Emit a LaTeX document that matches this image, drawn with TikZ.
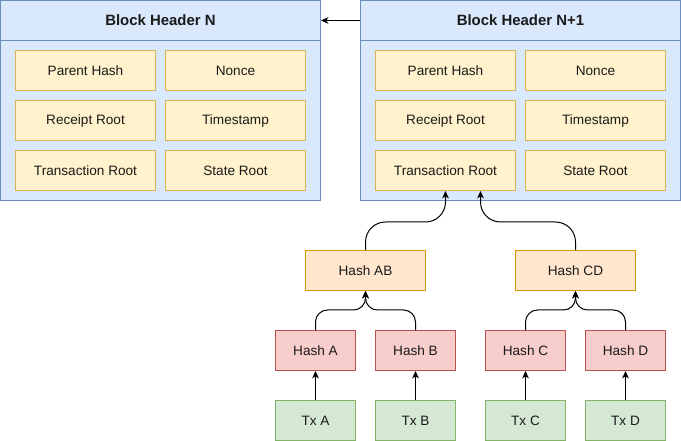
\documentclass[tikz,border=0pt]{standalone}
\usepackage{fontspec}
\setmainfont{Liberation Sans}
\usetikzlibrary{arrows.meta}
\definecolor{bluefill}{HTML}{DAE8FC}
\definecolor{bluedraw}{HTML}{6C8EBF}
\definecolor{yelfill}{HTML}{FFF2CC}
\definecolor{yeldraw}{HTML}{D6B656}
\definecolor{orafill}{HTML}{FFE6CC}
\definecolor{oradraw}{HTML}{D79B00}
\definecolor{redfill}{HTML}{F8CECC}
\definecolor{reddraw}{HTML}{B85450}
\definecolor{grnfill}{HTML}{D5E8D4}
\definecolor{grndraw}{HTML}{82B366}
\definecolor{txt}{HTML}{1A1A1A}
\begin{document}
\begin{tikzpicture}[x=0.75pt,y=-0.75pt,
  base/.style={draw, line width=0.75pt, inner sep=0pt, anchor=center, text=txt,
    font=\fontsize{10.2}{12}\selectfont},
  hdr/.style={base, fill=bluefill, draw=bluedraw, minimum width=240pt, minimum height=30pt,
    font=\bfseries\fontsize{11.2}{13}\selectfont},
  body/.style={base, fill=bluefill, draw=bluedraw, minimum width=240pt, minimum height=120pt},
  field/.style={base, fill=yelfill, draw=yeldraw, minimum width=105pt, minimum height=30pt},
  mid/.style={base, fill=orafill, draw=oradraw, minimum width=90pt, minimum height=30pt},
  leaf/.style={base, fill=redfill, draw=reddraw, minimum width=60pt, minimum height=30pt},
  tx/.style={base, fill=grnfill, draw=grndraw, minimum width=60pt, minimum height=30pt},
  arr/.style={-{Stealth[length=5.5pt,width=5pt,inset=1.5pt]}, line width=0.75pt, black}]
\useasboundingbox (0,0) rectangle (681,441);
% Block Header N
\node[body] (bN) at (160.5,120.5) {};
\node[hdr] (hN) at (160.5,20.5) {Block Header N};
\node[field] (phN) at (85.5,70.5) {Parent Hash};
\node[field] (noN) at (235.5,70.5) {Nonce};
\node[field] (rrN) at (85.5,120.5) {Receipt Root};
\node[field] (tsN) at (235.5,120.5) {Timestamp};
\node[field] (trN) at (85.5,170.5) {Transaction Root};
\node[field] (srN) at (235.5,170.5) {State Root};
% Block Header N+1
\node[body] (bM) at (520.5,120.5) {};
\node[hdr] (hM) at (520.5,20.5) {Block Header N+1};
\node[field] (phM) at (445.5,70.5) {Parent Hash};
\node[field] (noM) at (595.5,70.5) {Nonce};
\node[field] (rrM) at (445.5,120.5) {Receipt Root};
\node[field] (tsM) at (595.5,120.5) {Timestamp};
\node[field] (trM) at (445.5,170.5) {Transaction Root};
\node[field] (srM) at (595.5,170.5) {State Root};
% Merkle tree
\node[mid] (hab) at (365.5,270.5) {Hash AB};
\node[mid] (hcd) at (575.5,270.5) {Hash CD};
\node[leaf] (ha) at (315.5,350.5) {Hash A};
\node[leaf] (hb) at (415.5,350.5) {Hash B};
\node[leaf] (hc) at (525.5,350.5) {Hash C};
\node[leaf] (hd) at (625.5,350.5) {Hash D};
\node[tx] (ta) at (315.5,420.5) {Tx A};
\node[tx] (tb) at (415.5,420.5) {Tx B};
\node[tx] (tc) at (525.5,420.5) {Tx C};
\node[tx] (td) at (625.5,420.5) {Tx D};
% connectors
\draw[arr] (hM.west) -- (hN.east);
\draw[arr, rounded corners=15pt] (hab.north) -- ++(0,-28) -| (trM.south);
\draw[arr, rounded corners=15pt] (hcd.north) -- ++(0,-28) -| ([xshift=26.25pt]trM.south);
\draw[arr, rounded corners=9pt] (ha.north) -- ++(0,-20) -| (hab.south);
\draw[arr, rounded corners=9pt] (hb.north) -- ++(0,-20) -| (hab.south);
\draw[arr, rounded corners=9pt] (hc.north) -- ++(0,-20) -| (hcd.south);
\draw[arr, rounded corners=9pt] (hd.north) -- ++(0,-20) -| (hcd.south);
\draw[arr] (ta) -- (ha);
\draw[arr] (tb) -- (hb);
\draw[arr] (tc) -- (hc);
\draw[arr] (td) -- (hd);
\end{tikzpicture}
\end{document}
